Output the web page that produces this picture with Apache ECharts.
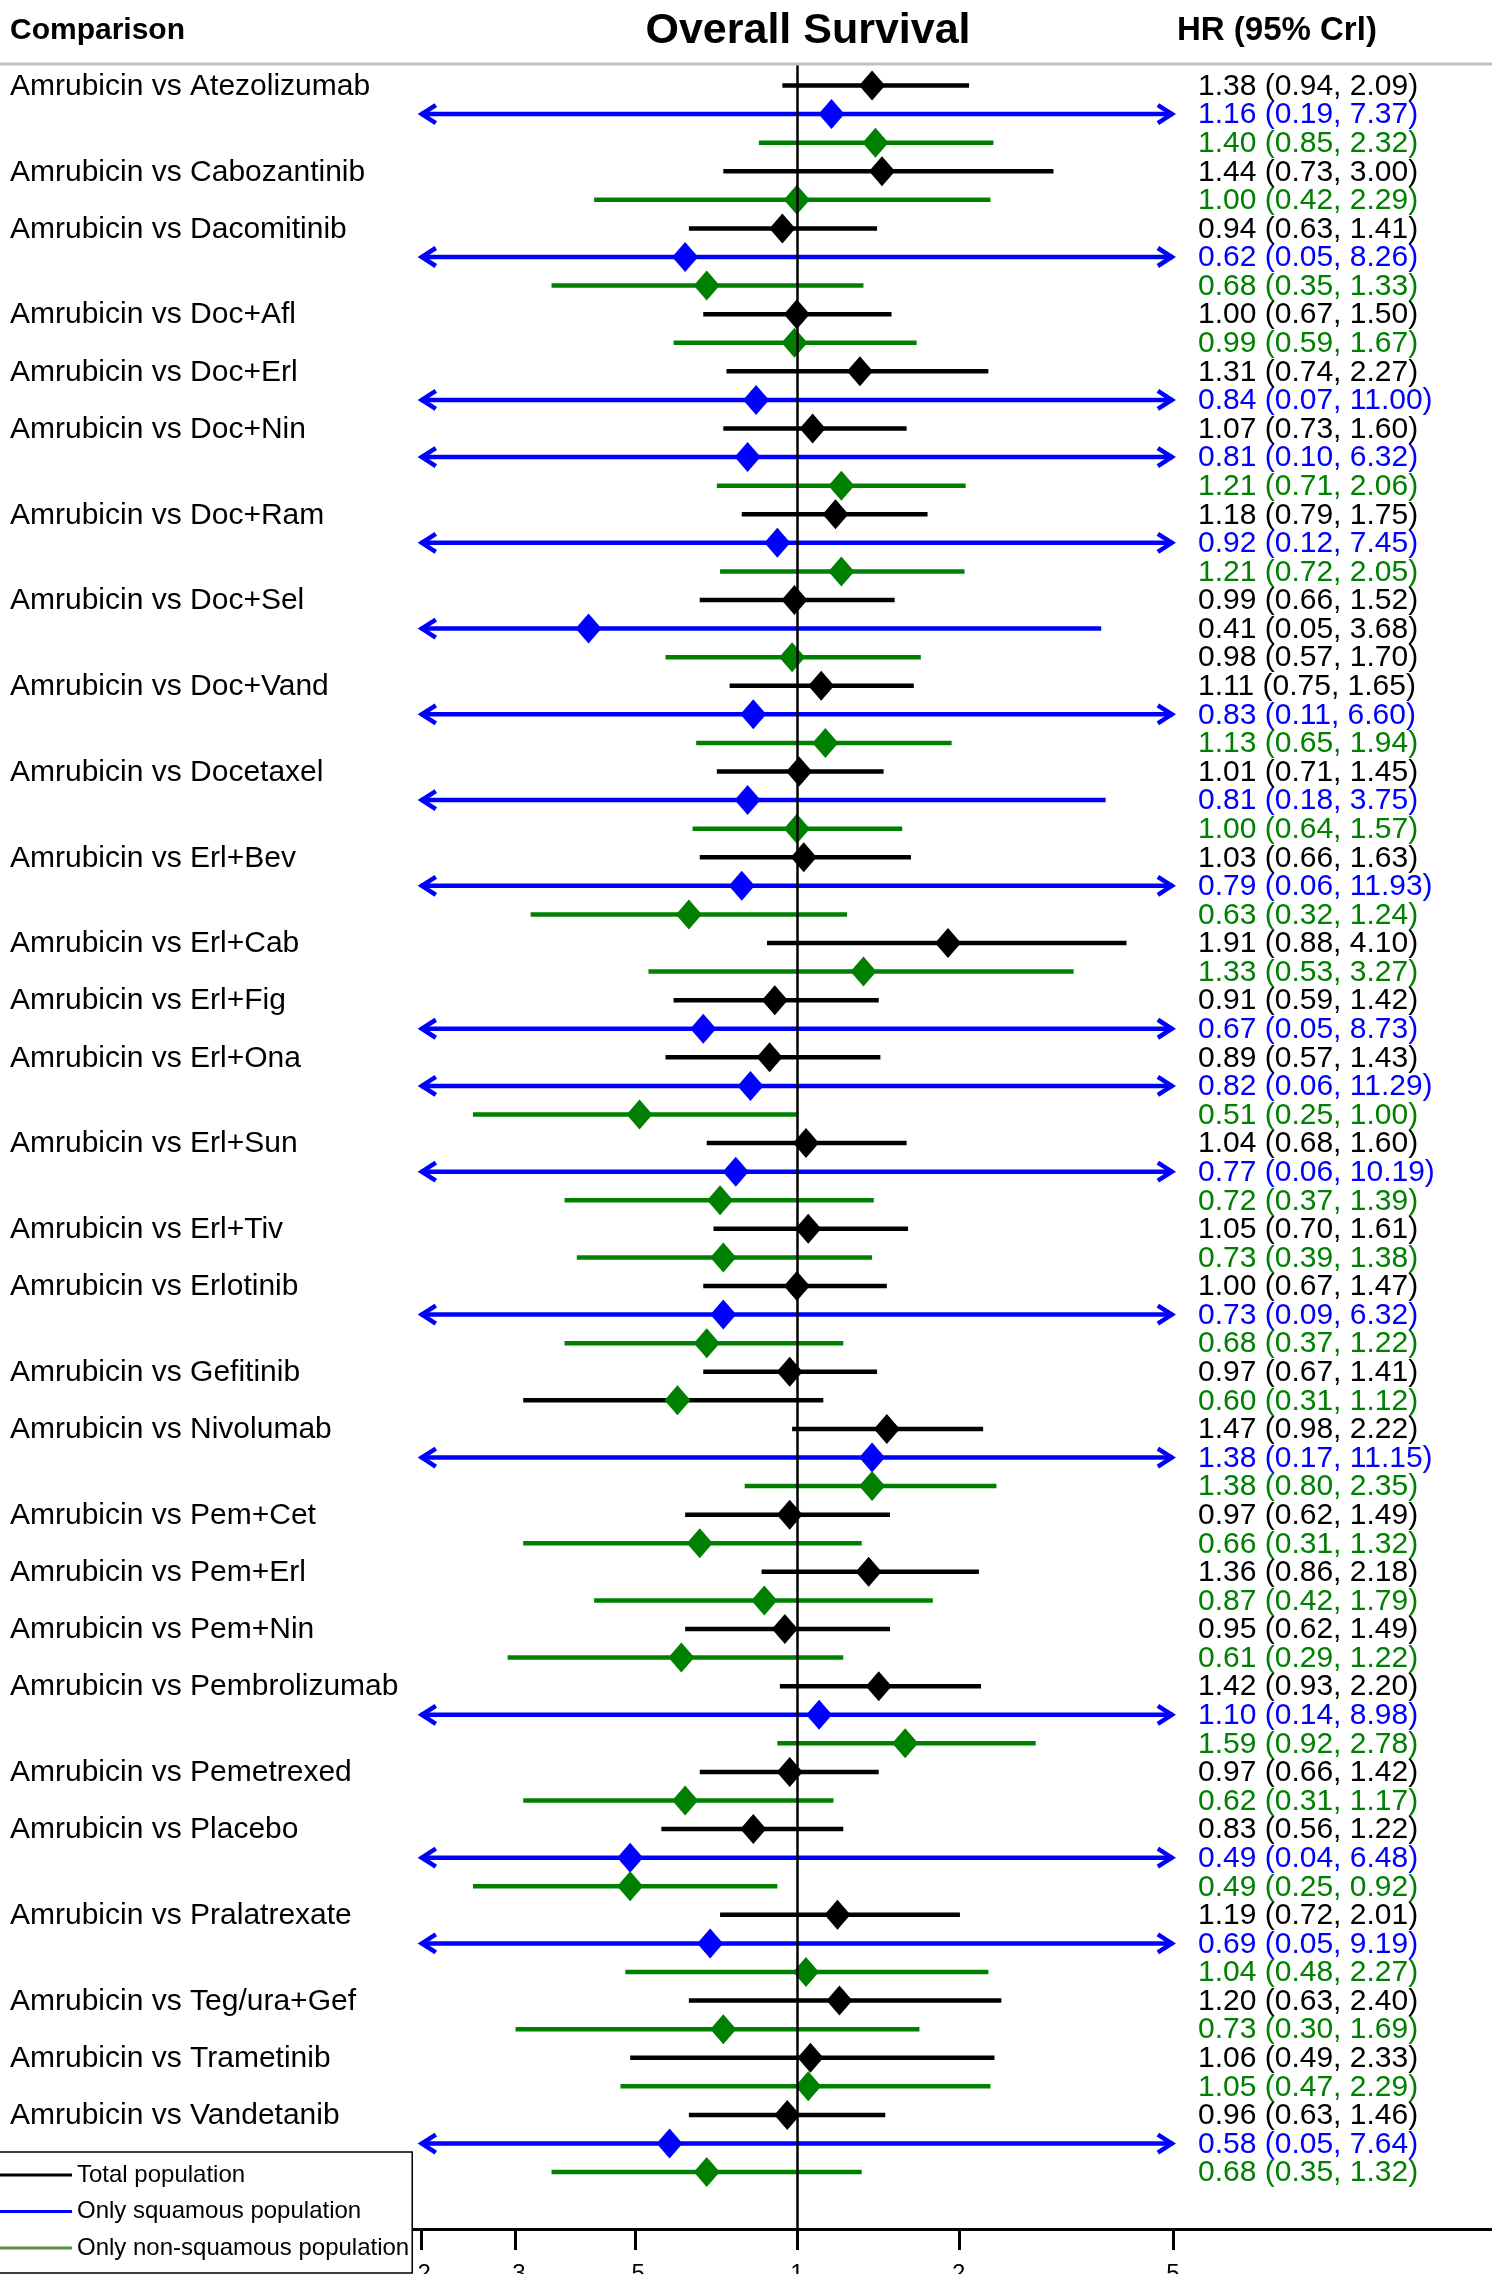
<!DOCTYPE html>
<html>
<head>
<meta charset="utf-8">
<script src="https://cdn.jsdelivr.net/npm/echarts@6/dist/echarts.min.js"></script>
<style>
html,body{margin:0;padding:0;background:#fff;}
#chart{width:1492px;height:2274px;}
</style>
</head>
<body>
<div id="chart"></div>
<script>
// ---------------- DATA ----------------
const comparators = ['Atezolizumab','Cabozantinib','Dacomitinib','Doc+Afl','Doc+Erl','Doc+Nin','Doc+Ram','Doc+Sel','Doc+Vand','Docetaxel','Erl+Bev','Erl+Cab','Erl+Fig','Erl+Ona','Erl+Sun','Erl+Tiv','Erlotinib','Gefitinib','Nivolumab','Pem+Cet','Pem+Erl','Pem+Nin','Pembrolizumab','Pemetrexed','Placebo','Pralatrexate','Teg/ura+Gef','Trametinib','Vandetanib'];

// Total population
const totalHR = [1.38,1.44,0.94,1.00,1.31,1.07,1.18,0.99,1.11,1.01,1.03,1.91,0.91,0.89,1.04,1.05,1.00,0.97,1.47,0.97,1.36,0.95,1.42,0.97,0.83,1.19,1.20,1.06,0.96];
const totalLo = [0.94,0.73,0.63,0.67,0.74,0.73,0.79,0.66,0.75,0.71,0.66,0.88,0.59,0.57,0.68,0.70,0.67,0.67,0.98,0.62,0.86,0.62,0.93,0.66,0.56,0.72,0.63,0.49,0.63];
const totalHi = [2.09,3.00,1.41,1.50,2.27,1.60,1.75,1.52,1.65,1.45,1.63,4.10,1.42,1.43,1.60,1.61,1.47,1.41,2.22,1.49,2.18,1.49,2.20,1.42,1.22,2.01,2.40,2.33,1.46];

// Only squamous population (null = not reported)
const squHR = [1.16,null,0.62,null,0.84,0.81,0.92,0.41,0.83,0.81,0.79,null,0.67,0.82,0.77,null,0.73,null,1.38,null,null,null,1.10,null,0.49,0.69,null,null,0.58];
const squLo = [0.19,null,0.05,null,0.07,0.10,0.12,0.05,0.11,0.18,0.06,null,0.05,0.06,0.06,null,0.09,null,0.17,null,null,null,0.14,null,0.04,0.05,null,null,0.05];
const squHi = [7.37,null,8.26,null,11.00,6.32,7.45,3.68,6.60,3.75,11.93,null,8.73,11.29,10.19,null,6.32,null,11.15,null,null,null,8.98,null,6.48,9.19,null,null,7.64];

// Only non-squamous population (null = not reported)
const nsqHR = [1.40,1.00,0.68,0.99,null,1.21,1.21,0.98,1.13,1.00,0.63,1.33,null,0.51,0.72,0.73,0.68,0.60,1.38,0.66,0.87,0.61,1.59,0.62,0.49,1.04,0.73,1.05,0.68];
const nsqLo = [0.85,0.42,0.35,0.59,null,0.71,0.72,0.57,0.65,0.64,0.32,0.53,null,0.25,0.37,0.39,0.37,0.31,0.80,0.31,0.42,0.29,0.92,0.31,0.25,0.48,0.30,0.47,0.35];
const nsqHi = [2.32,2.29,1.33,1.67,null,2.06,2.05,1.70,1.94,1.57,1.24,3.27,null,1.00,1.39,1.38,1.22,1.12,2.35,1.32,1.79,1.22,2.78,1.17,0.92,2.27,1.69,2.29,1.32];

// rows whose text / line is drawn in black in the original
const blackTextEntries = ['Doc+Sel|S','Doc+Sel|N'];
const blackLineEntries = ['Gefitinib|N'];

const tickValues = [0.2,0.3,0.5,1,2,5];
const tickLabels = ['.2','.3','.5','1','2','5'];

const seriesNames = ['Total population','Only squamous population','Only non-squamous population'];

// ---------------- LAYOUT / STYLE ----------------
const FONT = '"Liberation Sans", Arial, Helvetica, sans-serif';
const COLORS = {T:'#000000', S:'#0000ff', N:'#008000'};
const LEGEND_COLORS = ['#000000','#0000ff','#5b8c3e'];
const CLIP_LO = 0.2, CLIP_HI = 5;         // plotting limits of the CI lines (arrows beyond)
const AXIS_MIN = 0.1926, AXIS_MAX = 19.6; // extent of drawn x axis line
const log = v => Math.log10(v);

// build rows in display order
const rows = { T: [], S: [], N: [] };
let r = 0;
comparators.forEach((name, i) => {
  const label = 'Amrubicin vs ' + name;
  const add = (pop, hr, lo, hi) => {
    const key = name + '|' + pop;
    rows[pop].push([r, log(hr), log(lo), log(hi), hr, lo, hi,
      blackTextEntries.includes(key) ? 1 : 0,
      blackLineEntries.includes(key) ? 1 : 0,
      pop === 'T' ? label : '']);
    r++;
  };
  add('T', totalHR[i], totalLo[i], totalHi[i]);
  if (squHR[i] != null) add('S', squHR[i], squLo[i], squHi[i]);
  if (nsqHR[i] != null) add('N', nsqHR[i], nsqLo[i], nsqHi[i]);
});
const nRows = r;

function makeRender(pop) {
  return function (params, api) {
    const d = rows[pop][params.dataIndex];
    const y = api.coord([0, d[0]])[1];
    const baseColor = COLORS[pop];
    const lineColor = d[8] ? '#000000' : baseColor;
    const textColor = d[7] ? '#000000' : baseColor;
    const loV = Math.max(d[2], log(CLIP_LO));
    const hiV = Math.min(d[3], log(CLIP_HI));
    const xLo = api.coord([loV, d[0]])[0];
    const xHi = api.coord([hiV, d[0]])[0];
    const xE = api.coord([d[1], d[0]])[0];
    const children = [];
    children.push({type:'line', shape:{x1:xLo, y1:y, x2:xHi, y2:y}, style:{stroke:lineColor, lineWidth:4.5}});
    if (d[2] < log(CLIP_LO)) {
      children.push({type:'polyline', shape:{points:[[xLo+15,y-9],[xLo+1,y],[xLo+15,y+9]]}, style:{stroke:lineColor, lineWidth:4.5, fill:null}});
    }
    if (d[3] > log(CLIP_HI)) {
      children.push({type:'polyline', shape:{points:[[xHi-15,y-9],[xHi-1,y],[xHi-15,y+9]]}, style:{stroke:lineColor, lineWidth:4.5, fill:null}});
    }
    children.push({type:'polygon', shape:{points:[[xE,y-15],[xE+13,y],[xE,y+15],[xE-13,y]]}, style:{fill:baseColor}});
    const txt = d[4].toFixed(2) + ' (' + d[5].toFixed(2) + ', ' + d[6].toFixed(2) + ')';
    children.push({type:'text', style:{text:txt, x:1198, y:y+1, fill:textColor, fontSize:30, fontFamily:FONT, align:'left', verticalAlign:'middle'}});
    if (d[9]) {
      children.push({type:'text', style:{text:d[9], x:10, y:y+1, fill:'#000', fontSize:30, fontFamily:FONT, align:'left', verticalAlign:'middle'}});
    }
    return {type:'group', children};
  };
}

const chart = echarts.init(document.getElementById('chart'), null, {renderer:'canvas'});
const option = {
  animation: false,
  backgroundColor: '#ffffff',
  grid: { left: 412, right: 0, top: 65, bottom: 45, containLabel: false, outerBoundsMode: 'none' },
  xAxis: {
    type: 'value', position: 'bottom',
    min: log(AXIS_MIN), max: log(AXIS_MAX),
    axisLine: { show: true, onZero: false, lineStyle: { color: '#000', width: 3 } },
    axisTick: { show: true, length: 21, lineStyle: { color: '#000', width: 3 }, customValues: tickValues.map(log) },
    axisLabel: {
      show: true, margin: 33, fontSize: 24, fontFamily: FONT, color: '#000',
      customValues: tickValues.map(log),
      formatter: v => {
        let best = 0;
        tickValues.forEach((t, i) => { if (Math.abs(log(t) - v) < Math.abs(log(tickValues[best]) - v)) best = i; });
        return tickLabels[best];
      }
    },
    splitLine: { show: false }
  },
  yAxis: { type: 'value', inverse: true, min: -0.717, max: nRows + 0.99, show: false },
  legend: {
    orient: 'vertical', left: -2, top: 2152,
    itemWidth: 72, itemHeight: 3, itemGap: 12.5,
    padding: [11, 3, 13, 2],
    borderColor: '#000', borderWidth: 1.5, backgroundColor: '#fff',
    icon: 'rect', selectedMode: false,
    textStyle: { fontSize: 24, fontFamily: FONT, color: '#000', lineHeight: 24 },
    data: seriesNames.map((n, i) => ({ name: n, itemStyle: { color: LEGEND_COLORS[i] } }))
  },
  graphic: [
    { type:'line', shape:{x1:0, y1:64, x2:1492, y2:64}, style:{stroke:'#c0c0c0', lineWidth:3}, z: 10 },
    { type:'text', x: 10, y: 31, style:{text:'Comparison', fontSize:30, fontWeight:'bold', fontFamily:FONT, fill:'#000', align:'left', verticalAlign:'middle'} },
    { type:'text', x: 808, y: 31, style:{text:'Overall Survival', fontSize:43, fontWeight:'bold', fontFamily:FONT, fill:'#000', align:'center', verticalAlign:'middle'} },
    { type:'text', x: 1177, y: 31, style:{text:'HR (95% Crl)', fontSize:33, fontWeight:'bold', fontFamily:FONT, fill:'#000', align:'left', verticalAlign:'middle'} }
  ],
  series: [
    {
      type: 'line', name: 'ref', data: [], z: 1, silent: true,
      markLine: { silent: true, symbol: 'none', label: { show: false },
        lineStyle: { color: '#000', width: 2.5, type: 'solid' },
        data: [{ xAxis: 0 }] }
    },
    { type:'custom', name: seriesNames[0], data: rows.T, renderItem: makeRender('T'), encode:{x:[1,2,3], y:0}, itemStyle:{color:COLORS.T}, z: 3, clip: false },
    { type:'custom', name: seriesNames[1], data: rows.S, renderItem: makeRender('S'), encode:{x:[1,2,3], y:0}, itemStyle:{color:COLORS.S}, z: 3, clip: false },
    { type:'custom', name: seriesNames[2], data: rows.N, renderItem: makeRender('N'), encode:{x:[1,2,3], y:0}, itemStyle:{color:COLORS.N}, z: 3, clip: false }
  ]
};
chart.setOption(option);
</script>
</body>
</html>
